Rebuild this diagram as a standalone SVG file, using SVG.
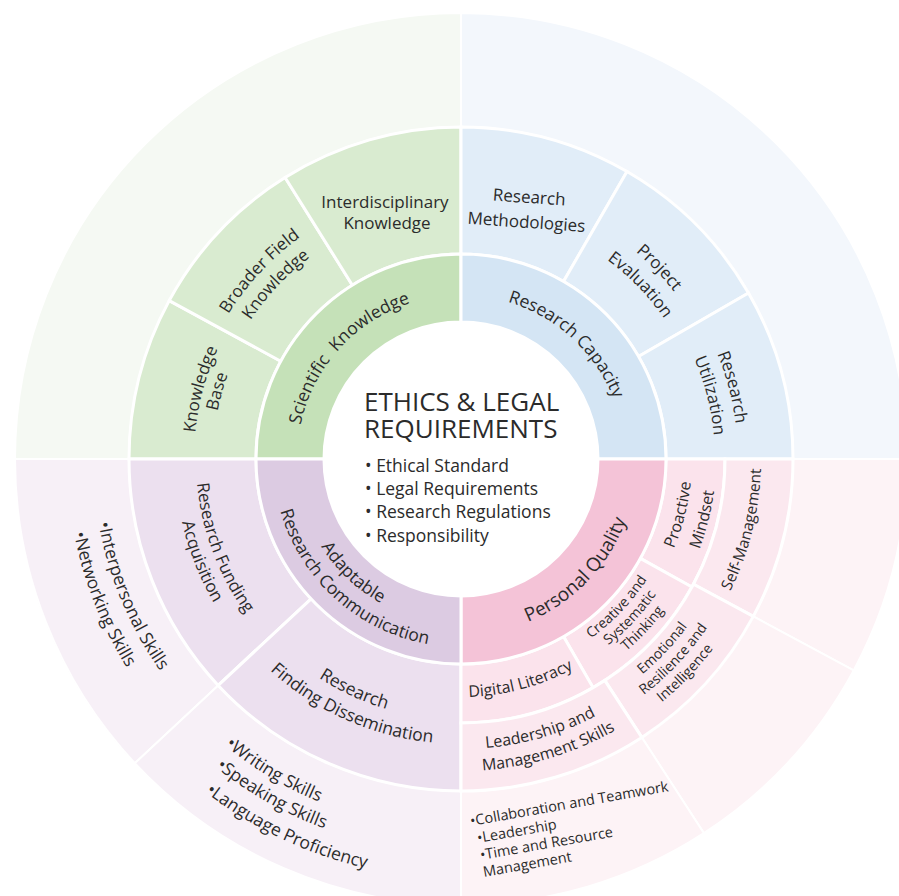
<svg xmlns="http://www.w3.org/2000/svg" xmlns:xlink="http://www.w3.org/1999/xlink" width="899" height="896" viewBox="0 0 899 896">
<style>
  .seg { stroke: #ffffff; stroke-width: 3; }
  .g0 { fill: #c5e1b8; } .g1 { fill: #d9ebd0; } .g2 { fill: #f5f9f3; }
  .b0 { fill: #d4e5f4; } .b1 { fill: #e1edf8; } .b2 { fill: #f3f7fc; }
  .p0 { fill: #dccbe2; } .p1 { fill: #ece0ef; } .p2 { fill: #f7f0f7; }
  .k0 { fill: #f4c3d7; } .k1 { fill: #fbe3ec; } .k1b { fill: #fbe8ef; } .k2 { fill: #fdf3f6; }
  .thin { stroke-width: 2; }
  text { font-family: "Open Sans", "Liberation Sans", sans-serif; fill: #2b2b2b; }
  .t175 { font-size: 17.5px; }
  .t17 { font-size: 17px; }
  .t16 { font-size: 16px; }
  .t155 { font-size: 15.5px; }
  .t14 { font-size: 14px; }
  .t145 { font-size: 14.5px; }
  .t19 { font-size: 19px; }
  .title { font-size: 26px; }
</style>
<defs>
  <path id="aT1" d="M305,509.7 A164,164 0 0 1 495.1,298.6"/>
  <path id="aT2" d="M411.7,302.6 A164,164 0 0 1 621.1,494.5"/>
  <path id="aT3" d="M272.2,647.8 A267,267 0 0 1 391.9,201.1"/>
  <path id="aT4" d="M284.1,632.8 A248,248 0 0 1 398.9,218.9"/>
  <path id="aT5" d="M199,539.1 A274,274 0 0 1 522.6,192"/>
  <path id="aT6" d="M219.6,531.4 A252,252 0 0 1 519,213.8"/>
  <path id="aT7" d="M395.4,196.1 A271,271 0 0 1 721.5,533.7"/>
  <path id="aT8" d="M400.4,219.6 A247,247 0 0 1 698.7,526.3"/>
  <path id="aT9" d="M533.6,191.7 A277,277 0 0 1 656.2,655.6"/>
  <path id="aT10" d="M529.7,214.5 A254,254 0 0 1 638.4,640.8"/>
  <path id="aB1" d="M300.6,420.5 A165,165 0 0 0 507.9,617.2"/>
  <path id="aB2" d="M277.1,419.9 A188,188 0 0 0 519.1,637.8"/>
  <path id="aB3" d="M418.4,629.8 A176,176 0 0 0 630.2,410.5"/>
  <path id="aB4" d="M256.5,290.4 A265,265 0 0 0 417.3,720.4"/>
  <path id="aB5" d="M237.2,281 A286,286 0 0 0 418.7,741.9"/>
  <path id="aB6" d="M201.1,482.6 A261,261 0 0 0 611.4,672.3"/>
  <path id="aB7" d="M177.6,489.3 A285,285 0 0 0 628.9,689.3"/>
  <path id="aB8" d="M523.5,681.4 A231,231 0 0 0 622.3,293.7"/>
  <path id="aB9" d="M531.3,704.1 A255,255 0 0 0 638.1,275.6"/>
  <path id="aB10" d="M543.7,747.4 A300,300 0 0 0 669.4,243.2"/>
  <path id="aB11" d="M409.3,674.4 A221.5,221.5 0 0 0 673.4,396.1"/>
  <path id="aB12" d="M406.8,690.2 A237.5,237.5 0 0 0 688.4,390.4"/>
  <path id="aB13" d="M404,706 A253.5,253.5 0 0 0 703.4,384.9"/>
  <path id="aB14" d="M396.7,733.1 A281.5,281.5 0 0 0 730.5,377.6"/>
  <path id="aB15" d="M392.3,749.5 A298.5,298.5 0 0 0 746.9,373.2"/>
  <path id="aB16" d="M386.3,765.5 A315.5,315.5 0 0 0 763.8,370.4"/>
  <path id="aB17" d="M292.7,627.3 A238,238 0 0 0 690.9,520.6"/>
  <path id="aB18" d="M260.6,668.7 A290,290 0 0 0 742.8,527.7"/>
  <path id="aB19" d="M247.4,686.4 A312,312 0 0 0 764.8,530.3"/>
  <path id="aB20" d="M98.6,522.9 A368,368 0 0 0 586.9,804.8"/>
  <path id="aB21" d="M74,532.8 A394,394 0 0 0 600.9,827.3"/>
  <path id="aB22" d="M225,745.3 A371,371 0 0 0 783.9,641.7"/>
  <path id="aB23" d="M215.7,767.3 A394,394 0 0 0 807.2,647"/>
  <path id="aB24" d="M205.3,792.2 A420,420 0 0 0 833.5,652.9"/>
</defs>

<rect x="0" y="0" width="899" height="896" fill="#ffffff"/>

<!-- outer ring -->
<g id="outer-scientific">
  <path class="seg thin g2" d="M15,459 A446,446 0 0 1 461,13 L461,127 A332,332 0 0 0 129,459 Z"/>
</g>
<g id="outer-capacity">
  <path class="seg thin b2" d="M461,13 A446,446 0 0 1 907,459 L793,459 A332,332 0 0 0 461,127 Z"/>
</g>
<g id="interpersonal-networking">
  <path class="seg thin p2" d="M134.8,763.2 A446,446 0 0 1 15,459 L129,459 A332,332 0 0 0 218.2,685.4 Z"/>
  <text class="t175"><textPath xlink:href="#aB20" href="#aB20">•Interpersonal Skills</textPath></text>
  <text class="t175"><textPath xlink:href="#aB21" href="#aB21">•Networking Skills</textPath></text>
</g>
<g id="writing-speaking-language">
  <path class="seg thin p2" d="M461,905 A446,446 0 0 1 134.8,763.2 L218.2,685.4 A332,332 0 0 0 461,791 Z"/>
  <text class="t175"><textPath xlink:href="#aB22" href="#aB22">•Writing Skills</textPath></text>
  <text class="t175"><textPath xlink:href="#aB23" href="#aB23">•Speaking Skills</textPath></text>
  <text class="t175"><textPath xlink:href="#aB24" href="#aB24">•Language Proficiency</textPath></text>
</g>
<g id="outer-self-management">
  <path class="seg thin k2" d="M907,459 A446,446 0 0 1 853.7,670.4 L753.3,616.4 A332,332 0 0 0 793,459 Z"/>
</g>
<g id="outer-emotional">
  <path class="seg thin k2" d="M853.7,670.4 A446,446 0 0 1 703.9,833.1 L641.8,737.4 A332,332 0 0 0 753.3,616.4 Z"/>
</g>
<g id="collaboration-leadership-time">
  <path class="seg thin k2" d="M703.9,833.1 A446,446 0 0 1 461,905 L461,791 A332,332 0 0 0 641.8,737.4 Z"/>
  <text class="t145" x="471" y="826" transform="rotate(-10 471 826)">•Collaboration and Teamwork</text>
  <text class="t145" x="478" y="843" transform="rotate(-10 478 843)">•Leadership</text>
  <text class="t145" x="481" y="860" transform="rotate(-10 481 860)">•Time and Resource</text>
  <text class="t145" x="484" y="877" transform="rotate(-10 484 877)">Management</text>
</g>

<!-- second ring: green -->
<g id="knowledge-base">
  <path class="seg g1" d="M129,459 A332,332 0 0 1 169.2,300.6 L280.8,361.2 A205,205 0 0 0 256,459 Z"/>
  <text class="t17" text-anchor="middle"><textPath xlink:href="#aT3" href="#aT3" startOffset="50%">Knowledge</textPath></text>
  <text class="t17" text-anchor="middle"><textPath xlink:href="#aT4" href="#aT4" startOffset="50%">Base</textPath></text>
</g>
<g id="broader-field-knowledge">
  <path class="seg g1" d="M169.2,300.6 A332,332 0 0 1 285.1,177.5 L352.4,285.2 A205,205 0 0 0 280.8,361.2 Z"/>
  <text class="t17" text-anchor="middle"><textPath xlink:href="#aT5" href="#aT5" startOffset="50%">Broader Field</textPath></text>
  <text class="t17" text-anchor="middle"><textPath xlink:href="#aT6" href="#aT6" startOffset="50%">Knowledge</textPath></text>
</g>
<g id="interdisciplinary-knowledge">
  <path class="seg g1" d="M285.1,177.5 A332,332 0 0 1 461,127 L461,254 A205,205 0 0 0 352.4,285.2 Z"/>
  <text class="t17" x="385" y="208" text-anchor="middle">Interdisciplinary</text>
  <text class="t17" x="387" y="229" text-anchor="middle">Knowledge</text>
</g>

<!-- second ring: blue -->
<g id="research-methodologies">
  <path class="seg b1" d="M461,127 A332,332 0 0 1 627,171.5 L563.5,281.5 A205,205 0 0 0 461,254 Z"/>
  <g transform="rotate(4 528 215)">
    <text class="t17" x="528" y="203" text-anchor="middle">Research</text>
    <text class="t17" x="527" y="228" text-anchor="middle">Methodologies</text>
  </g>
</g>
<g id="project-evaluation">
  <path class="seg b1" d="M627,171.5 A332,332 0 0 1 748.5,293 L638.5,356.5 A205,205 0 0 0 563.5,281.5 Z"/>
  <text class="t17" text-anchor="middle"><textPath xlink:href="#aT7" href="#aT7" startOffset="50%">Project</textPath></text>
  <text class="t17" text-anchor="middle"><textPath xlink:href="#aT8" href="#aT8" startOffset="50%">Evaluation</textPath></text>
</g>
<g id="research-utilization">
  <path class="seg b1" d="M748.5,293 A332,332 0 0 1 793,459 L666,459 A205,205 0 0 0 638.5,356.5 Z"/>
  <text class="t17" text-anchor="middle"><textPath xlink:href="#aT9" href="#aT9" startOffset="50%">Research</textPath></text>
  <text class="t17" text-anchor="middle"><textPath xlink:href="#aT10" href="#aT10" startOffset="50%">Utilization</textPath></text>
</g>

<!-- second ring: purple -->
<g id="research-funding-acquisition">
  <path class="seg p1" d="M218.2,685.4 A332,332 0 0 1 129,459 L256,459 A205,205 0 0 0 311.1,598.8 Z"/>
  <text class="t17" text-anchor="middle"><textPath xlink:href="#aB4" href="#aB4" startOffset="50%">Research Funding</textPath></text>
  <text class="t17" text-anchor="middle"><textPath xlink:href="#aB5" href="#aB5" startOffset="50%">Acquisition</textPath></text>
</g>
<g id="research-finding-dissemination">
  <path class="seg p1" d="M461,791 A332,332 0 0 1 218.2,685.4 L311.1,598.8 A205,205 0 0 0 461,664 Z"/>
  <text class="t175" text-anchor="middle"><textPath xlink:href="#aB6" href="#aB6" startOffset="50%">Research</textPath></text>
  <text class="t175" text-anchor="middle"><textPath xlink:href="#aB7" href="#aB7" startOffset="50%">Finding Dissemination</textPath></text>
</g>

<!-- second ring: pink -->
<g id="proactive-mindset">
  <path class="seg k1" d="M725,459 A264,264 0 0 1 691.9,587 L640.3,558.4 A205,205 0 0 0 666,459 Z"/>
  <text class="t16" text-anchor="middle"><textPath xlink:href="#aB8" href="#aB8" startOffset="50%">Proactive</textPath></text>
  <text class="t16" text-anchor="middle"><textPath xlink:href="#aB9" href="#aB9" startOffset="50%">Mindset</textPath></text>
</g>
<g id="creative-systematic-thinking">
  <path class="seg k1" d="M691.9,587 A264,264 0 0 1 593,687.6 L563.5,636.5 A205,205 0 0 0 640.3,558.4 Z"/>
  <text class="t14" text-anchor="middle"><textPath xlink:href="#aB11" href="#aB11" startOffset="50%">Creative and</textPath></text>
  <text class="t14" text-anchor="middle"><textPath xlink:href="#aB12" href="#aB12" startOffset="50%">Systematic</textPath></text>
  <text class="t14" text-anchor="middle"><textPath xlink:href="#aB13" href="#aB13" startOffset="50%">Thinking</textPath></text>
</g>
<g id="digital-literacy">
  <path class="seg k1" d="M593,687.6 A264,264 0 0 1 461,723 L461,664 A205,205 0 0 0 563.5,636.5 Z"/>
  <text class="t16" text-anchor="middle"><textPath xlink:href="#aB17" href="#aB17" startOffset="50%">Digital Literacy</textPath></text>
</g>
<g id="self-management">
  <path class="seg k1b" d="M793,459 A332,332 0 0 1 753.3,616.4 L693.5,584.2 A264,264 0 0 0 725,459 Z"/>
  <text class="t155" text-anchor="middle"><textPath xlink:href="#aB10" href="#aB10" startOffset="50%">Self-Management</textPath></text>
</g>
<g id="emotional-resilience">
  <path class="seg k1b" d="M753.3,616.4 A332,332 0 0 1 641.8,737.4 L604.8,680.4 A264,264 0 0 0 693.5,584.2 Z"/>
  <text class="t14" text-anchor="middle"><textPath xlink:href="#aB14" href="#aB14" startOffset="50%">Emotional</textPath></text>
  <text class="t14" text-anchor="middle"><textPath xlink:href="#aB15" href="#aB15" startOffset="50%">Resilience and</textPath></text>
  <text class="t14" text-anchor="middle"><textPath xlink:href="#aB16" href="#aB16" startOffset="50%">Intelligence</textPath></text>
</g>
<g id="leadership-management">
  <path class="seg k1b" d="M641.8,737.4 A332,332 0 0 1 461,791 L461,723 A264,264 0 0 0 604.8,680.4 Z"/>
  <text class="t16" text-anchor="middle"><textPath xlink:href="#aB18" href="#aB18" startOffset="50%">Leadership and</textPath></text>
  <text class="t16" text-anchor="middle"><textPath xlink:href="#aB19" href="#aB19" startOffset="50%">Management Skills</textPath></text>
</g>

<!-- inner ring -->
<g id="scientific-knowledge">
  <path class="seg g0" d="M256,459 A205,205 0 0 1 461,254 L461,322 A137,137 0 0 0 324,459 Z"/>
  <text class="t175" text-anchor="middle" word-spacing="5"><textPath xlink:href="#aT1" href="#aT1" startOffset="50%">Scientific Knowledge</textPath></text>
</g>
<g id="research-capacity">
  <path class="seg b0" d="M461,254 A205,205 0 0 1 666,459 L598,459 A137,137 0 0 0 461,322 Z"/>
  <text class="t175" text-anchor="middle"><textPath xlink:href="#aT2" href="#aT2" startOffset="50%">Research Capacity</textPath></text>
</g>
<g id="personal-quality">
  <path class="seg k0" d="M666,459 A205,205 0 0 1 461,664 L461,596 A137,137 0 0 0 598,459 Z"/>
  <text class="t19" text-anchor="middle"><textPath xlink:href="#aB3" href="#aB3" startOffset="50%">Personal Quality</textPath></text>
</g>
<g id="adaptable-research-communication">
  <path class="seg p0" d="M461,664 A205,205 0 0 1 256,459 L324,459 A137,137 0 0 0 461,596 Z"/>
  <text class="t175" text-anchor="middle"><textPath xlink:href="#aB1" href="#aB1" startOffset="50%">Adaptable</textPath></text>
  <text class="t175" text-anchor="middle"><textPath xlink:href="#aB2" href="#aB2" startOffset="50%">Research Communication</textPath></text>
</g>

<!-- center -->
<g id="ethics-legal-requirements">
  <circle cx="461" cy="459" r="137" fill="#ffffff"/>
  <text class="title" x="364" y="411">ETHICS &amp; LEGAL</text>
  <text class="title" x="364" y="438">REQUIREMENTS</text>
  <text class="t175" x="365" y="472">• Ethical Standard</text>
  <text class="t175" x="365" y="495">• Legal Requirements</text>
  <text class="t175" x="365" y="518">• Research Regulations</text>
  <text class="t175" x="365" y="541.5">• Responsibility</text>
</g>

<g id="connectors"></g>
</svg>
